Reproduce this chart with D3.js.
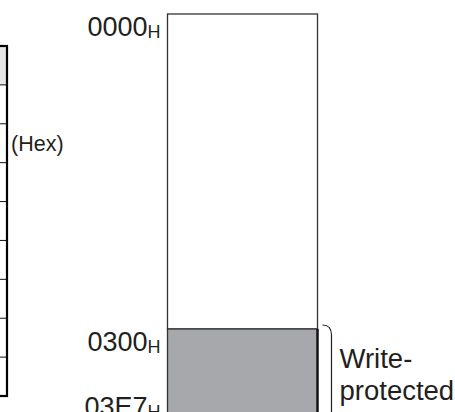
<!DOCTYPE html>
<html><head><meta charset="utf-8">
<script src="https://cdn.jsdelivr.net/npm/d3@7"></script>
<style>
html,body{margin:0;padding:0;background:#fff;overflow:hidden}
svg{display:block;font-family:"Liberation Sans",Arial,Helvetica,sans-serif}
</style></head><body>
<script>
// ---- data ----
const addresses = [0x0000, 0x0300, 0x03E8];          // region boundaries
const addressLabels = ["0000", "0300", "03E7"];        // printed boundary labels
const labelAnchors = ["top", "top", "bottom"];
const regions = ["Free", "Write-protected"];
const regionFills = ["#ffffff", "#a7a8ab"];
const noteLines = ["Write-", "protected"];
const tableRows = ["header", "r1", "r2", "r3", "r4", "r5", "r6", "r7", "r8"];
const tableNote = "(Hex)";

const W = 455, H = 412;
const svg = d3.select("body").append("svg").attr("width", W).attr("height", H);
const ink = "#231f20";

// ---- scales ----
const y = d3.scaleLinear().domain([0x0000, 0x0300]).range([14, 329]);
const x = d3.scaleLinear().domain([0, 1]).range([167.5, 317.5]);
const rowY = d3.scaleBand().domain(tableRows).range([46, 396]);

// ---- left table (cut off) ----
const tg = svg.append("g");
tg.append("rect").attr("x", -100).attr("y", rowY("header")).attr("width", 107)
  .attr("height", rowY.bandwidth()).attr("fill", "#e6e6e6");
tableRows.slice(1).forEach(r => {
  tg.append("line").attr("x1", -100).attr("x2", 7).attr("y1", rowY(r)).attr("y2", rowY(r))
    .attr("stroke", "#111").attr("stroke-width", 1);
});
tg.append("rect").attr("x", -100).attr("y", rowY("header")).attr("width", 107)
  .attr("height", rowY.range()[1] - rowY.range()[0]).attr("fill", "none")
  .attr("stroke", "#000").attr("stroke-width", 2.2);
tg.append("text").attr("x", 11).attr("y", rowY("r2") + rowY.bandwidth()/2 + 8)
  .attr("font-size", 21.5).attr("fill", ink).text(tableNote);

// ---- memory map ----
const mg = svg.append("g");
regions.forEach((r, i) => {
  mg.append("rect").attr("x", x(0)).attr("y", y(addresses[i]))
    .attr("width", x(1) - x(0)).attr("height", y(addresses[i+1]) - y(addresses[i]))
    .attr("fill", regionFills[i]).attr("stroke", "#333").attr("stroke-width", 1.3);
});
// thicker right edge of protected area
mg.append("line").attr("x1", x(1)).attr("x2", x(1)).attr("y1", y(addresses[1]))
  .attr("y2", y(addresses[2])).attr("stroke", "#111").attr("stroke-width", 2.4);

// address labels
addressLabels.forEach((lab, i) => {
  const base = labelAnchors[i] === "top" ? y(addresses[i]) + 22 : y(addresses[i]) - 8;
  const t = mg.append("text").attr("x", x(0) - 7).attr("y", base)
    .attr("text-anchor", "end").attr("fill", ink).attr("font-size", 27);
  t.append("tspan").text(lab);
  t.append("tspan").attr("font-size", 18).attr("dy", 2).text("H");
});

// brace
const by = y(addresses[1]);
mg.append("path")
  .attr("d", `M${x(1)+5},${by-4} Q${x(1)+14},${by-4} ${x(1)+14},${by+6} L${x(1)+14},${H+10}`)
  .attr("fill", "none").attr("stroke", ink).attr("stroke-width", 1.2);

noteLines.forEach((s, i) => {
  mg.append("text").attr("x", x(1) + 22).attr("y", by + 39 + i * 32)
    .attr("font-size", 27.5).attr("fill", ink).text(s);
});
</script>
</body></html>
